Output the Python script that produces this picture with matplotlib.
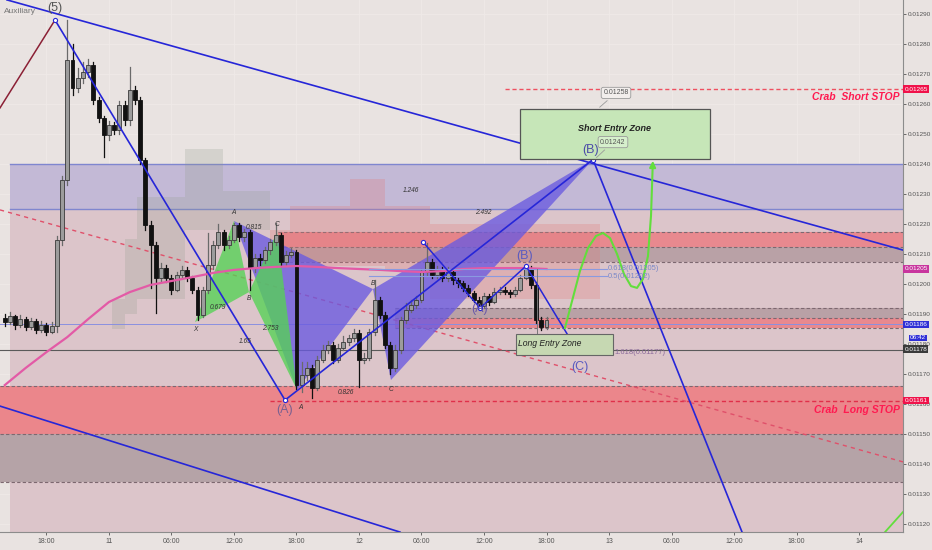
import numpy as np
import matplotlib.pyplot as plt
import matplotlib.transforms as mtransforms
from matplotlib.patches import Rectangle, Polygon

plt.rcParams['font.family'] = ['Liberation Sans', 'DejaVu Sans']

# time axis: hours from 11 00:00, 30 minute candles
t_first = -10.0
first_open = 0.011887
closes = [
    0.011873, 0.011893, 0.011863, 0.011883, 0.011857, 0.011877, 0.011847, 0.011863, 0.011840, 0.011860,
    0.012147, 0.012347, 0.012747, 0.012653, 0.012687, 0.012707, 0.012730, 0.012613, 0.012553, 0.012497,
    0.012530, 0.012513, 0.012597, 0.012547, 0.012647, 0.012613, 0.012413, 0.012197, 0.012130, 0.012020,
    0.012053, 0.012020, 0.011980, 0.012030, 0.012047, 0.012020, 0.011980, 0.011897, 0.011980, 0.012063,
    0.012130, 0.012173, 0.012130, 0.012147, 0.012197, 0.012157, 0.012173, 0.012053, 0.012087, 0.012080,
    0.012113, 0.012140, 0.012163, 0.012073, 0.012097, 0.012107, 0.011663, 0.011697, 0.011720, 0.011653,
    0.011747, 0.011780, 0.011797, 0.011747, 0.011787, 0.011807, 0.011820, 0.011837, 0.011747, 0.011753,
    0.011840, 0.011947, 0.011897, 0.011797, 0.011720, 0.011780, 0.011880, 0.011913, 0.011930, 0.011947,
    0.012040, 0.012073, 0.012030, 0.012047, 0.012020, 0.012040, 0.012013, 0.012003, 0.011987, 0.011970,
    0.011947, 0.011927, 0.011960, 0.011940, 0.011973, 0.011980, 0.011973, 0.011967, 0.011980, 0.012020,
    0.012053, 0.011997, 0.011880, 0.011857, 0.011880]
highs = [
    0.011900, 0.011905, 0.011898, 0.011895, 0.011890, 0.011888, 0.011882, 0.011875, 0.011870, 0.011872,
    0.012160, 0.012360, 0.012880, 0.012800, 0.012720, 0.012740, 0.012750, 0.012740, 0.012625, 0.012560,
    0.012545, 0.012540, 0.012610, 0.012610, 0.012723, 0.012660, 0.012625, 0.012420, 0.012210, 0.012140,
    0.012070, 0.012065, 0.012030, 0.012040, 0.012060, 0.012055, 0.012025, 0.011990, 0.011990, 0.012170,
    0.012145, 0.012200, 0.012180, 0.012160, 0.012205, 0.012205, 0.012185, 0.012180, 0.012100, 0.012100,
    0.012125, 0.012150, 0.012203, 0.012170, 0.012110, 0.012120, 0.012115, 0.011740, 0.011740, 0.011730,
    0.011760, 0.011795, 0.011810, 0.011805, 0.011800, 0.011825, 0.011830, 0.011850, 0.011845, 0.011770,
    0.011850, 0.012013, 0.011955, 0.011905, 0.011805, 0.011795, 0.011890, 0.011935, 0.011945, 0.011960,
    0.012050, 0.012137, 0.012085, 0.012060, 0.012055, 0.012055, 0.012050, 0.012020, 0.012010, 0.011995,
    0.011975, 0.011955, 0.011970, 0.011965, 0.011985, 0.011990, 0.011990, 0.011980, 0.011990, 0.012030,
    0.012067, 0.012060, 0.012005, 0.011890, 0.011890]
lows = [
    0.011860, 0.011865, 0.011850, 0.011855, 0.011845, 0.011850, 0.011835, 0.011840, 0.011830, 0.011835,
    0.011840, 0.012130, 0.012330, 0.012630, 0.012640, 0.012670, 0.012690, 0.012600, 0.012540, 0.012423,
    0.012480, 0.012500, 0.012500, 0.012530, 0.012530, 0.012600, 0.012400, 0.012180, 0.011987, 0.011903,
    0.012005, 0.012005, 0.011965, 0.011975, 0.012020, 0.012010, 0.011970, 0.011880, 0.011890, 0.011970,
    0.012050, 0.012120, 0.012115, 0.012120, 0.012140, 0.012145, 0.012145, 0.011980, 0.012040, 0.012065,
    0.012070, 0.012100, 0.012130, 0.012060, 0.012065, 0.012090, 0.011650, 0.011640, 0.011680, 0.011620,
    0.011645, 0.011740, 0.011770, 0.011735, 0.011740, 0.011780, 0.011795, 0.011810, 0.011657, 0.011735,
    0.011745, 0.011830, 0.011885, 0.011785, 0.011700, 0.011710, 0.011770, 0.011870, 0.011905, 0.011920,
    0.011940, 0.012030, 0.012020, 0.012020, 0.012010, 0.012010, 0.012000, 0.011990, 0.011975, 0.011960,
    0.011940, 0.011917, 0.011920, 0.011930, 0.011935, 0.011965, 0.011965, 0.011955, 0.011960, 0.011975,
    0.012015, 0.011985, 0.011870, 0.011845, 0.011850]

# moving average (every 2 hours)
ma_t = list(range(-10, 43, 2))
ma_p = [0.011663, 0.011720, 0.011773, 0.011823, 0.011883, 0.011940, 0.011973, 0.011997, 0.012010,
        0.012023, 0.012037, 0.012047, 0.012053, 0.012057, 0.012060, 0.012057, 0.012053, 0.012050,
        0.012047, 0.012043, 0.012040, 0.012043, 0.012050, 0.012053, 0.012053, 0.012053, 0.012050]

# cloud
gray_t = [0.3, 1.5, 2.7, 7.3, 10.9, 15.5]
gray_top = [0.011950, 0.012150, 0.012290, 0.012450, 0.012310, 0.012310]
gray_bot = [0.011850, 0.011900, 0.011950, 0.012180, 0.012180, 0.012180]
red_t = [-10.5, 0.3, 15.5, 17.4, 23.1, 26.5, 30.8, 47.1]
red_top = [0.012050, np.nan, 0.012180, 0.012260, 0.012350, 0.012260, 0.012200, 0.012200]
red_bot = [0.011850, np.nan, 0.012060, 0.012060, 0.012060, 0.012050, 0.011950, 0.011950]

# horizontal zones: (t start, low, high, colour)
zones = [
    (-9.5, 0.011173, 0.012250, '#dcc5ca'),
    (-9.5, 0.012250, 0.012400, '#c3b9d6'),
    (16.2, 0.012125, 0.012175, '#e8898f'),
    (16.2, 0.012075, 0.012125, '#b9a1a6'),
    (27.5, 0.011887, 0.011920, '#b9a1a6'),
    (27.5, 0.011853, 0.011887, '#e8898f'),
    (-10.5, 0.011500, 0.011660, '#eb868b'),
    (-10.5, 0.011340, 0.011500, '#b5a3a7'),
]
dashed_levels = [(16.2, 0.012175), (16.2, 0.012125), (16.2, 0.012075), (27.5, 0.011920),
                 (27.5, 0.011887), (27.5, 0.011853), (-10.5, 0.011660), (-10.5, 0.011500),
                 (-10.5, 0.011340)]

# harmonic patterns X, A, B, C, D
green_t = [8.26, 12.0, 13.44, 16.13, 18.05]
green_p = [0.011873, 0.012210, 0.011973, 0.012173, 0.011647]
purple_t = [12.0, 18.05, 25.34, 27.07, 46.46]
purple_p = [0.012210, 0.011647, 0.011983, 0.011680, 0.012415]

# wave lines
wave_t = [-5.18, 16.9, 46.46, 60.77]
wave_p = [0.012880, 0.011613, 0.012415, 0.011173]
small_t = [30.14, 35.62, 40.03, 45.21]
small_p = [0.012140, 0.011920, 0.012060, 0.011763]
trend_top_t, trend_top_p = [-9.79, 76.22], [0.012947, 0.012113]
trend_bot_t, trend_bot_p = [-10.46, 27.94], [0.011593, 0.011173]
maroon_t, maroon_p = [-10.46, -5.18], [0.012587, 0.012880]
red_diag_t, red_diag_p = [-10.46, 76.22], [0.012247, 0.011407]

curve_t = [43.77, 44.45, 45.21, 45.98, 46.75, 47.42, 48.10, 48.77, 49.44, 50.11, 50.69, 51.26,
           51.74, 52.03, 52.18]
curve_p = [0.011853, 0.011943, 0.012043, 0.012120, 0.012160, 0.012170, 0.012153, 0.012100,
           0.012033, 0.011993, 0.011987, 0.012017, 0.012093, 0.012227, 0.012380]

tick_hours = [-6, 0, 6, 12, 18, 24, 30, 36, 42, 48, 54, 60, 66, 72]
tick_names = ['18:00', '11', '06:00', '12:00', '18:00', '12', '06:00', '12:00', '18:00', '13',
              '06:00', '12:00', '18:00', '14']
axis_tags = [(0.01265, '0.01265', '#f0124a'), (0.01205, '0.01205', '#c8369e'),
             (0.011865, '0.01186', '#2f2fd6'), (0.011783, '0.01178', '#3a3a3a'),
             (0.011611, '0.01161', '#f0124a')]

BG = '#e9e3e1'
BLUE = '#2626d8'
XMIN, XMAX = -10.46, 76.22
YMIN, YMAX = 0.0111733, 0.0129467

fig = plt.figure(figsize=(9.32, 5.5), dpi=100, facecolor=BG)
ax = fig.add_axes([0, 18 / 550, 903 / 932, 532 / 550], facecolor=BG)
ax.set_xlim(XMIN, XMAX)
ax.set_ylim(YMIN, YMAX)

for ts, lo, hi, col in zones:
    ax.add_patch(Rectangle((ts, lo), XMAX - ts, hi - lo, fc=col, ec='none', zorder=1))
for ts, lv in dashed_levels:
    ax.plot([ts, XMAX], [lv, lv], ls=(0, (3, 2)), color='#7d6870', lw=0.8, zorder=1.2)
ax.plot([-9.5, XMAX], [0.0124, 0.0124], color='#7f86cf', lw=1, zorder=1.2)
ax.plot([-9.5, XMAX], [0.01225, 0.01225], color='#7f86cf', lw=1, zorder=1.2)

ax.fill_between(gray_t, gray_bot, gray_top, step='post', color='#8d9a86', alpha=0.22, lw=0, zorder=1.5)
ax.fill_between(red_t, red_bot, red_top, step='post', color='#e07a7a', alpha=0.28, lw=0, zorder=1.5)

ax.axhline(0.01178, color='#5a5a5a', lw=0.8, zorder=1.6)
ax.axhline(0.011865, color='#8a90e0', lw=0.7, zorder=1.6)
ax.plot([38.0, XMAX], [0.01265, 0.01265], ls=(0, (3, 2)), color='#ef5060', lw=1, zorder=1.6)
ax.plot([15.46, XMAX], [0.01161, 0.01161], ls=(0, (3, 2)), color='#e0304a', lw=1, zorder=1.6)
ax.plot(red_diag_t, red_diag_p, ls=(0, (3, 3)), color='#e0506a', lw=1, zorder=1.6)

# harmonic triangles (purple first, green on top)
for tt, pp, col, z in [(purple_t, purple_p, '#6a5ae0', 2.4), (green_t, green_p, '#55d255', 2.5)]:
    for k in (0, 2):
        ax.add_patch(Polygon(list(zip(tt[k:k + 3], pp[k:k + 3])), closed=True, fc=col, ec='none',
                             alpha=0.78, zorder=z))

# candles
n = len(closes)
ct = t_first + 0.5 * np.arange(n)
opens = [first_open] + closes[:-1]
for t, o, h, l, c in zip(ct, opens, highs, lows, closes):
    up = c >= o
    ax.plot([t, t], [l, h], color='#6a6a6a' if up else '#111111', lw=0.9, zorder=3)
    ax.add_patch(Rectangle((t - 0.19, min(o, c)), 0.38, max(abs(c - o), 0.000003),
                           fc='#9c9c9c' if up else '#111111', ec='#3a3a3a' if up else '#111111',
                           lw=0.6, zorder=3.1))

ax.plot(ma_t, ma_p, color='#e35aa6', lw=1.6, zorder=4)

# lines
ax.plot(trend_top_t, trend_top_p, color=BLUE, lw=1.2, zorder=6)
ax.plot(trend_bot_t, trend_bot_p, color=BLUE, lw=1.2, zorder=6)
ax.plot(maroon_t, maroon_p, color='#8b2035', lw=1.1, zorder=6)
ax.plot(wave_t, wave_p, color=BLUE, lw=1.2, zorder=6)
ax.plot(wave_t[:3], wave_p[:3], 'o', ms=3, mfc='white', mec=BLUE, mew=0.8, zorder=6.5)
ax.plot(small_t, small_p, color=BLUE, lw=1.1, zorder=6)
ax.plot(small_t[:3], small_p[:3], 'o', ms=3, mfc='white', mec=BLUE, mew=0.8, zorder=6.5)
ax.plot(curve_t, curve_p, color='#62de3c', lw=1.5, zorder=6)
ax.annotate('', xy=(52.22, 0.012420), xytext=(curve_t[-1], curve_p[-1]),
            arrowprops=dict(arrowstyle='-|>', color='#62de3c', lw=1.5, mutation_scale=9), zorder=6)
ax.plot([74.49, 76.22], [0.011173, 0.011240], color='#62de3c', lw=1.3, zorder=6)

# fib lines
ax.plot([25.0, 47.8], [0.01205, 0.01205], color='#8a9ae0', lw=0.8, zorder=5)
ax.plot([25.0, 47.8], [0.012025, 0.012025], color='#8a9ae0', lw=0.8, zorder=5)
ax.plot([41.1, 41.1], [0.01183, 0.01205], color='#777777', lw=0.7, zorder=5)
ax.text(47.9, 0.01205, '0.618(0.01205)', fontsize=5.5, color='#7a88c8', va='center', zorder=7)
ax.text(47.9, 0.012025, '0.5(0.01202)', fontsize=5.5, color='#7a88c8', va='center', zorder=7)
ax.text(48.5, 0.01177, '1.618(0.01177)', fontsize=5.5, color='#8a6a9a', va='center', zorder=7)

# entry boxes
ax.add_patch(Rectangle((39.45, 0.0124167), 18.24, 0.0001667, fc='#c6e6b8', ec='#555555', lw=0.9, zorder=7))
ax.text(48.57, 0.01252, 'Short Entry Zone', fontsize=6.5, style='italic', weight='bold',
        color='#222222', ha='center', va='center', zorder=8)
ax.add_patch(Rectangle((39.07, 0.0117634), 9.31, 0.00007, fc='#c6d8b2', ec='#666666', lw=0.8, zorder=7))
ax.text(39.3, 0.0118, 'Long Entry Zone', fontsize=6.2, style='italic', color='#222222',
        va='center', zorder=8)
for txt, xy, xyt, fc in [('0.01258', (46.9, 0.012583), (48.67, 0.012637), '#f2eeec'),
                         ('0.01242', (46.6, 0.012415), (48.38, 0.012473), '#d6efcc')]:
    ax.annotate(txt, xy=xy, xytext=xyt, fontsize=5, color='#555555', ha='center', va='center',
                bbox=dict(boxstyle='round,pad=0.3', fc=fc, ec='#9a9a9a', lw=0.6),
                arrowprops=dict(arrowstyle='-', color='#9a9a9a', lw=0.6), zorder=9)

# labels
ax.text(75.9, 0.012623, 'Crab  Short STOP', fontsize=7.5, style='italic', weight='bold',
        color='#ff1a50', ha='right', va='center', zorder=8)
ax.text(75.9, 0.011580, 'Crab  Long STOP', fontsize=7.5, style='italic', weight='bold',
        color='#ff1a50', ha='right', va='center', zorder=8)
for txt, t, p, col in [('(5)', -5.18, 0.01292, '#555555'), ('(B)', 46.27, 0.012447, '#4b4ba8'),
                       ('(B)', 39.94, 0.012093, '#5b5bc0'), ('(A)', 35.62, 0.011917, '#6a5aa8'),
                       ('(C)', 45.21, 0.011723, '#5b5bc0'), ('(A)', 16.9, 0.011580, '#7a6090')]:
    ax.text(t, p, txt, fontsize=9, color=col, ha='center', va='center', zorder=8)
for txt, t, p in [('X', 8.26, 0.011847), ('A', 12.0, 0.012240), ('B', 13.44, 0.011953),
                  ('C', 16.13, 0.012200), ('A', 18.34, 0.011587), ('B', 25.34, 0.012003),
                  ('C', 27.07, 0.011647), ('0.815', 13.92, 0.012187), ('0.679', 10.46, 0.011920),
                  ('2.753', 15.46, 0.011853), ('1.65', 13.06, 0.011807), ('0.826', 22.75, 0.011637),
                  ('1.246', 28.99, 0.012313), ('2.492', 35.9, 0.012240)]:
    ax.text(t, p, txt, fontsize=4.8, style='italic', color='#333333', ha='center', va='center', zorder=8)
ax.text(0.004, 0.979, 'Auxiliary', transform=ax.transAxes, fontsize=6, color='#777777', va='center')

# axes
for s in ('top', 'left'):
    ax.spines[s].set_visible(False)
for s in ('right', 'bottom'):
    ax.spines[s].set_color('#8c8c8c')
ax.yaxis.tick_right()
yt = np.round(np.arange(0.0112, 0.012901, 0.0001), 5)
ax.set_yticks(yt)
ax.set_yticklabels([f'{v:.5f}' for v in yt])
ax.set_xticks(tick_hours)
ax.set_xticklabels(tick_names)
ax.tick_params(labelsize=5, colors='#555555', length=2.5, width=0.6, pad=1.5)
ax.tick_params(axis='y', labelsize=4.6, pad=1)
ax.grid(color='#efeae8', lw=0.6, zorder=0)
ax.set_axisbelow(True)

trans = mtransforms.blended_transform_factory(ax.transAxes, ax.transData)
for p, txt, col in axis_tags:
    ax.text(1.0015, p, txt, transform=trans, fontsize=4.6, color='white', va='center', ha='left',
            bbox=dict(boxstyle='square,pad=0.2', fc=col, ec='none'), clip_on=False, zorder=10)
ax.text(1.008, 0.01182, '06:42', transform=trans, fontsize=4.6, color='white', va='center', ha='left',
        bbox=dict(boxstyle='square,pad=0.15', fc='#2f2fd6', ec='none'), clip_on=False, zorder=10)

fig.savefig('out.png', dpi=100, facecolor=BG)
